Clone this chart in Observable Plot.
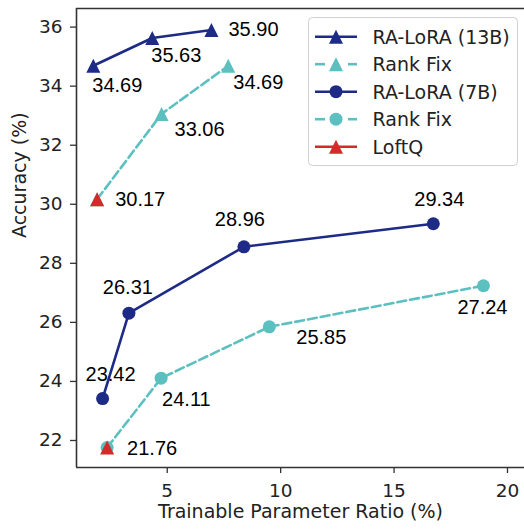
<!DOCTYPE html>
<html><head><meta charset="utf-8">
<script src="https://cdn.jsdelivr.net/npm/d3@7"></script>
<script src="https://cdn.jsdelivr.net/npm/@observablehq/plot@0.6"></script>
<style>
body{margin:0;background:#fff}
#wrap{position:relative;width:524px;height:529px}
#legend{position:absolute;left:308px;top:17px}
</style>
</head><body><div id="wrap"></div>
<script>
// ---- data ----
const xTicks = [5, 10, 15, 20];
const yTicks = [22, 24, 26, 28, 30, 32, 34, 36];
const xDomain = [1.0, 20.75];
const yDomain = [21.085, 36.63];
const xLabel = "Trainable Parameter Ratio (%)";
const yLabel = "Accuracy (%)";

const ra13X = [1.74, 4.34, 6.95];
const ra13Y = [34.69, 35.63, 35.90];
const ra13Labels = ["34.69", "35.63", "35.90"];

const rf13X = [1.91, 4.75, 7.69];
const rf13Y = [30.17, 33.06, 34.69];
const rf13Labels = ["30.17", "33.06", "34.69"];

const ra7X = [2.15, 3.31, 8.38, 16.73];
const ra7Y = [23.42, 26.31, 28.56, 29.34];
const ra7Labels = ["23.42", "26.31", "28.96", "29.34"];

const rf7X = [2.35, 4.73, 9.50, 18.94];
const rf7Y = [21.76, 24.11, 25.85, 27.24];
const rf7Labels = ["21.76", "24.11", "25.85", "27.24"];

const loftqX = [1.91, 2.35];
const loftqY = [30.17, 21.76];

const legendLabels = ["RA-LoRA (13B)", "Rank Fix", "RA-LoRA (7B)", "Rank Fix", "LoftQ"];

// ---- styles ----
const NAVY = "#1d2b86", TEAL = "#5cc0c0", RED = "#d42a2a";
const triUp = {draw(ctx, size){const h = Math.sqrt(size/Math.PI); ctx.moveTo(0,-h); ctx.lineTo(h,h); ctx.lineTo(-h,h); ctx.closePath();}};
const rows = (xs, ys, labs) => xs.map((x,i)=>({x, y: ys[i], label: labs ? labs[i] : ""}));

const ra13 = rows(ra13X, ra13Y, ra13Labels);
const rf13 = rows(rf13X, rf13Y, rf13Labels);
const ra7 = rows(ra7X, ra7Y, ra7Labels);
const rf7 = rows(rf7X, rf7Y, rf7Labels);
const loftq = rows(loftqX, loftqY);

// label placement (annotation offsets, px): [dx, dy, anchor]
const ra13Off = [[-1,20,"start"],[-1,18,"start"],[17,0,"start"]];
const rf13Off = [[18,0,"start"],[13,16,"start"],[5,17,"start"]];
const ra7Off  = [[8,-24,"middle"],[-1,-26,"middle"],[-4,-27,"middle"],[6,-24,"middle"]];
const rf7Off  = [[20,1,"start"],[1,21,"start"],[27,11,"start"],[-1,22,"middle"]];

const labelMarks = [];
[[ra13, ra13Off],[rf13, rf13Off],[ra7, ra7Off],[rf7, rf7Off]].forEach(([d, off]) => {
  d.forEach((p, i) => {
    const [dx, dy, anchor] = off[i];
    labelMarks.push(Plot.text([p], {x:"x", y:"y", text:"label", dx, dy, textAnchor: anchor,
      fontFamily:"Liberation Sans, Arial, sans-serif", fontSize: 20, fill:"#000"}));
  });
});

const series = [
  {data: ra13, color: NAVY, dash: null, sym: triUp, r: 7},
  {data: rf13, color: TEAL, dash: "9,4", sym: triUp, r: 7},
  {data: ra7, color: NAVY, dash: null, sym: "circle", r: 6.5},
  {data: rf7, color: TEAL, dash: "9,4", sym: "circle", r: 6.5},
  {data: loftq, color: RED, dash: null, sym: triUp, r: 7, noLine: true}
];
const seriesMarks = [];
series.forEach(s => {
  if (!s.noLine) seriesMarks.push(Plot.line(s.data, {x:"x", y:"y", stroke: s.color, strokeWidth: 2.6, strokeDasharray: s.dash}));
  seriesMarks.push(Plot.dot(s.data, {x:"x", y:"y", fill: s.color, stroke: "none", r: s.r, symbol: s.sym}));
});

const chart = Plot.plot({
  width: 524, height: 529,
  marginLeft: 76, marginRight: 0, marginTop: 8, marginBottom: 62,
  style: {fontFamily: "DejaVu Sans, sans-serif", fontSize: "18.5px", color: "#222", background: "#fff"},
  x: {domain: xDomain, ticks: xTicks, label: null},
  y: {domain: yDomain, ticks: yTicks, label: null},
  marks: [
    Plot.axisX({ticks: xTicks, tickSize: 6, tickPadding: 10, label: null, stroke: "#333", strokeWidth: 1.3, fontSize: 18.5}),
    Plot.axisY({ticks: yTicks, tickSize: 6, tickPadding: 8, label: null, stroke: "#333", strokeWidth: 1.3, fontSize: 18.5}),
    Plot.ruleX([xDomain[0]], {stroke: "#333", strokeWidth: 1.6}),
    Plot.ruleY([yDomain[0]], {stroke: "#333", strokeWidth: 1.6}),
    Plot.ruleY([yDomain[1]], {stroke: "#333", strokeWidth: 1.6}),
    ...seriesMarks,
    ...labelMarks,
    Plot.text([xLabel], {text: d => d, frameAnchor: "bottom", dy: 50, fontSize: 19, fill: "#222"}),
    Plot.text([yLabel], {text: d => d, frameAnchor: "left", rotate: -90, dx: -57, fontSize: 19, fill: "#222"})
  ]
});
const wrap = document.getElementById("wrap");
wrap.appendChild(chart);

// ---- legend ----
const lw = 210, lh = 149;
const leg = d3.create("svg").attr("id","legend").attr("width", lw).attr("height", lh);
leg.append("rect").attr("x",0.5).attr("y",0.5).attr("width",lw-1).attr("height",lh-1).attr("rx",4)
  .attr("fill","#fff").attr("fill-opacity",0.85).attr("stroke","#d0d0d0");
const legStyles = series;
legendLabels.forEach((lab, i) => {
  const s = legStyles[i];
  const cy = 19.7 + i*27.5;
  const g = leg.append("g");
  if (s.dash) {
    g.append("line").attr("x1",7).attr("x2",17).attr("y1",cy).attr("y2",cy).attr("stroke",s.color).attr("stroke-width",2.6);
    g.append("line").attr("x1",40).attr("x2",49).attr("y1",cy).attr("y2",cy).attr("stroke",s.color).attr("stroke-width",2.6);
  } else {
    g.append("line").attr("x1",7).attr("x2",49).attr("y1",cy).attr("y2",cy).attr("stroke",s.color).attr("stroke-width",2.6);
  }
  const size = Math.PI * s.r * s.r;
  const path = d3.path();
  if (s.sym === "circle") { path.arc(0,0,s.r,0,2*Math.PI); } else { s.sym.draw(path, size); }
  g.append("path").attr("d", path.toString()).attr("transform",`translate(28,${cy})`).attr("fill", s.color);
  g.append("text").attr("x",64.5).attr("y",cy).attr("dy","0.36em").attr("font-family","DejaVu Sans, sans-serif")
    .attr("font-size","19px").attr("fill","#222").text(lab);
});
wrap.appendChild(leg.node());
</script>
</body></html>
